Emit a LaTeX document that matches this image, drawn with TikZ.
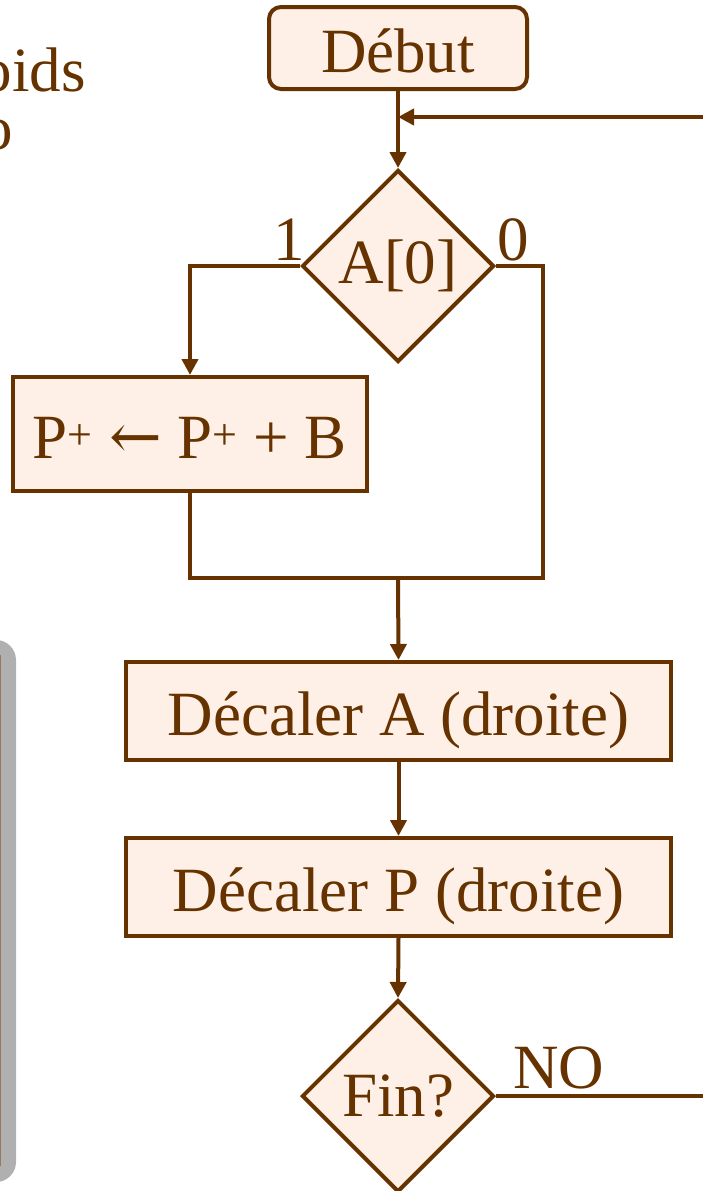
\documentclass[tikz,border=0pt]{standalone}
\usepackage{fontspec}
\setmainfont{Liberation Serif}
\newfontfamily\arrfont{DejaVu Serif}
\usetikzlibrary{shapes.geometric,arrows.meta}
\definecolor{brn}{RGB}{102,51,0}
\definecolor{lightfill}{RGB}{254,240,230}
\definecolor{shadowgray}{RGB}{176,176,176}
\definecolor{tan}{RGB}{150,120,95}
\tikzset{
  x=1pt, y=-1pt,
  base/.style={draw=brn, fill=lightfill, line width=4pt, text=brn, inner sep=0pt,
    font=\fontsize{63}{70}\selectfont},
  stepbox/.style={base, rectangle, text height=49pt, text depth=0pt},
  startbox/.style={base, rectangle, rounded corners=12pt, text height=49pt, text depth=0pt},
  decision/.style={base, diamond, minimum width=192pt, minimum height=192pt},
  conn/.style={draw=brn, line width=4pt},
  arr/.style={conn, -{Triangle[width=16pt,length=16pt]}},
  lbl/.style={text=brn, inner sep=0pt, font=\fontsize{63}{70}\selectfont},
}
\begin{document}
\begin{tikzpicture}
\useasboundingbox (0,0) rectangle (702,1191);
% partial box on the left
\fill[shadowgray, rounded corners=20pt] (-80,640) rectangle (16,1182);
\draw[tan, line width=1pt] (-80,655) rectangle (0.6,1165);
% partial text top-left
\node[lbl, anchor=base east] (t1) at (86,91) {poids};
\node[lbl, anchor=base east] (t2) at (13,149) {o};
% nodes
\node[startbox, minimum width=258pt, minimum height=82pt] (deb) at (398,48) {Début};
\node[decision] (a0) at (398,266) {A[0]};
\node[stepbox, minimum width=354pt, minimum height=114pt] (p) at (190,434) {P\textsuperscript{+} {\arrfont ←} P\textsuperscript{+} + B};
\node[stepbox, minimum width=545pt, minimum height=98pt] (da) at (398.5,711) {Décaler A (droite)};
\node[stepbox, minimum width=545pt, minimum height=98pt] (dp) at (398.5,887) {Décaler P (droite)};
\node[decision] (fin) at (398,1096) {Fin?};
% labels
\node[lbl] (l1) at (289,240) {1};
\node[lbl] (l0) at (513,240) {0};
\node[lbl] (lno) at (559,1068) {NO};
% coordinates
\coordinate (fbin) at (710,117);
\coordinate (fbhit) at (398,117);
\coordinate (rc) at (543,578);
\coordinate (j) at (398,578);
\coordinate (fout) at (710,1096);
% connectors
\draw[arr] (deb.south) -- (a0.north);
\draw[arr] (fbin) -- (fbhit);
\draw[arr] (a0.west) -| (p.north);
\draw[conn] (a0.east) -| (rc) -- (j);
\draw[conn] (p.south) |- (j);
\draw[arr] (j) -- (da.north);
\draw[arr] (da.south) -- (dp.north);
\draw[arr] (dp.south) -- (fin.north);
\draw[conn] (fin.east) -- (fout);
\end{tikzpicture}
\end{document}
